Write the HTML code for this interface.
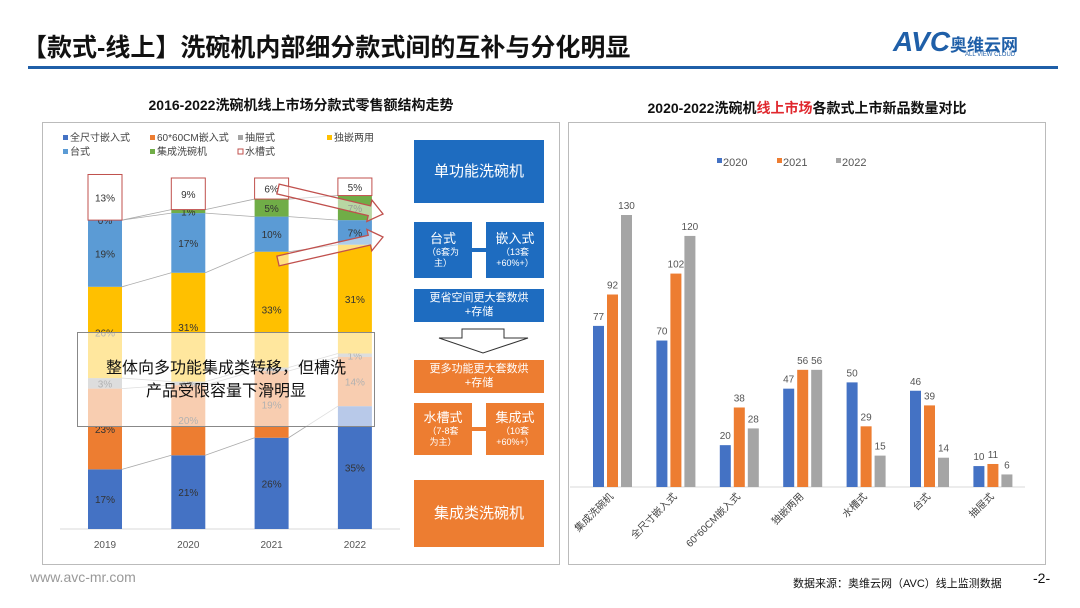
<!DOCTYPE html>
<html><head><meta charset="utf-8">
<style>
body{margin:0;width:1080px;height:608px;background:#fff;font-family:"Liberation Sans","Noto Sans CJK SC",sans-serif;position:relative;overflow:hidden}
.abs{position:absolute}
.box{position:absolute;color:#fff;text-align:center;display:flex;align-items:center;justify-content:center;flex-direction:column;line-height:1.2}
</style></head><body>
<div class="abs" style="left:22px;top:28px;font-size:25px;font-weight:bold;color:#111;letter-spacing:0px">【款式-线上】洗碗机内部细分款式间的互补与分化明显</div>
<div class="abs" style="left:893px;top:26px;font-size:28px;font-weight:bold;color:#1f5fa8;font-style:italic">AVC<span style="font-size:17px;color:#1f5fa8;font-style:normal">奥维云网</span></div>
<div class="abs" style="left:965px;top:52px;font-size:6px;color:#1f5fa8">ALL VIEW CLOUD</div>
<div class="abs" style="left:28px;top:66px;width:1030px;height:3px;background:#1f5fa8"></div>

<div class="abs" style="left:42px;top:95px;width:518px;text-align:center;font-size:14px;font-weight:bold;color:#111">2016-2022洗碗机线上市场分款式零售额结构走势</div>
<div class="abs" style="left:568px;top:98px;width:478px;text-align:center;font-size:14px;font-weight:bold;color:#111">2020-2022洗碗机<span style="color:#e0282e">线上市场</span>各款式上市新品数量对比</div>

<div class="abs" style="left:42px;top:122px;width:518px;height:443px;border:1px solid #bbb;box-sizing:border-box"></div>
<div class="abs" style="left:568px;top:122px;width:478px;height:443px;border:1px solid #bbb;box-sizing:border-box"></div>

<svg class="abs" style="left:0;top:0" width="1080" height="608" id="lsvg"></svg>

<!-- middle flow -->
<div class="box" style="left:414px;top:140px;width:130px;height:63px;background:#1e6cc0;font-size:15px">单功能洗碗机</div>
<div class="box" style="left:414px;top:222px;width:58px;height:56px;background:#1e6cc0;font-size:13px">台式<span style="font-size:9px">（6套为<br>主）</span></div>
<div class="box" style="left:486px;top:222px;width:58px;height:56px;background:#1e6cc0;font-size:13px">嵌入式<span style="font-size:9px">（13套<br>+60%+）</span></div>
<div class="abs" style="left:472px;top:248px;width:14px;height:4px;background:#1e6cc0"></div>
<div class="box" style="left:414px;top:289px;width:130px;height:33px;background:#1e6cc0;font-size:11px">更省空间更大套数烘<br>+存储</div>
<svg class="abs" style="left:436px;top:328px" width="95" height="26"><polygon points="26,1 68,1 68,10 92,10 47,25 3,10 26,10" fill="#fff" stroke="#333" stroke-width="1"/></svg>
<div class="box" style="left:414px;top:360px;width:130px;height:33px;background:#ed7d31;font-size:11px">更多功能更大套数烘<br>+存储</div>
<div class="box" style="left:414px;top:403px;width:58px;height:52px;background:#ed7d31;font-size:13px">水槽式<span style="font-size:9px">（7-8套<br>为主）</span></div>
<div class="box" style="left:486px;top:403px;width:58px;height:52px;background:#ed7d31;font-size:13px">集成式<span style="font-size:9px">（10套<br>+60%+）</span></div>
<div class="abs" style="left:472px;top:427px;width:14px;height:4px;background:#ed7d31"></div>
<div class="box" style="left:414px;top:480px;width:130px;height:67px;background:#ed7d31;font-size:15px">集成类洗碗机</div>

<div class="abs" style="left:77px;top:332px;width:298px;height:95px;background:rgba(255,255,255,0.62);border:1px solid #888;box-sizing:border-box;text-align:center;font-size:16px;line-height:23px;color:#111;padding-top:24px">整体向多功能集成类转移，但槽洗<br>产品受限容量下滑明显</div>

<div class="abs" style="left:30px;top:569px;font-size:14px;color:#999">www.avc-mr.com</div>
<div class="abs" style="left:793px;top:575px;font-size:11px;color:#111">数据来源：奥维云网（AVC）线上监测数据</div>
<div class="abs" style="left:1033px;top:570px;font-size:14px;color:#111">-2-</div>

<script>
const years=['2019','2020','2021','2022'];
const seriesNames=['全尺寸嵌入式','60*60CM嵌入式','抽屉式','独嵌两用','台式','集成洗碗机','水槽式'];
const seriesColors=['#4472c4','#ed7d31','#a5a5a5','#ffc000','#5b9bd5','#70ad47','#fff'];
const sFull=[17,21,26,35];
const s6060=[23,20,19,14];
const sDrawer=[3,1,1,1];
const sDual=[26,31,33,31];
const sCounter=[19,17,10,7];
const sIntegrated=[0,1,5,7];
const sSink=[13,9,6,5];
const stacks=[sFull,s6060,sDrawer,sDual,sCounter,sIntegrated,sSink];

const cats=['集成洗碗机','全尺寸嵌入式','60*60CM嵌入式','独嵌两用','水槽式','台式','抽屉式'];
const v2020=[77,70,20,47,50,46,10];
const v2021=[92,102,38,56,29,39,11];
const v2022=[130,120,28,56,15,14,6];
const barYears=['2020','2021','2022'];

const NS='http://www.w3.org/2000/svg';
const svg=document.getElementById('lsvg');
function mk(t,a,txt){const e=document.createElementNS(NS,t);for(const k in a)e.setAttribute(k,a[k]);if(txt!==undefined)e.textContent=txt;svg.appendChild(e);return e;}

// left chart axes
const lBase=529,lH=351;
const lx=i=>88+i*83.3, bw=34;
const ly=v=>lBase-v/100*lH;
mk('line',{x1:60,x2:400,y1:lBase,y2:lBase,stroke:'#d9d9d9'});
// series lines
for(let i=0;i<3;i++){let c1=0,c2=0;for(let s=0;s<stacks.length-1;s++){c1+=stacks[s][i];c2+=stacks[s][i+1];
 const l=mk('line',{x1:lx(i)+bw,y1:ly(c1),x2:lx(i+1),y2:ly(c2),stroke:'#aaa','stroke-width':0.8});
 }}
for(let i=0;i<years.length;i++){let c=0;
 for(let s=0;s<stacks.length;s++){const v=stacks[s][i];const y0=ly(c),y1=ly(c+v);c+=v;
  const r=mk('rect',{x:lx(i),y:y1,width:bw,height:y0-y1,fill:seriesColors[s],stroke:s==6?'#c0504d':'none','stroke-width':1});
  
  const t=mk('text',{x:lx(i)+bw/2,y:(y0+y1)/2+4,'text-anchor':'middle','font-size':10,fill:s==6||s==5||s==3?'#333':'#333'},v+'%');
  }
 const t=mk('text',{x:lx(i)+bw/2,y:548,'text-anchor':'middle','font-size':10,fill:'#555'},years[i]);
 }
// legend
const legX=[63,150,238,327,63,150,238],legY=[141,141,141,141,155,155,155];
for(let s=0;s<seriesNames.length;s++){
 const r=mk('rect',{x:legX[s],y:legY[s]-6,width:5,height:5,fill:seriesColors[s],stroke:s==6?'#c0504d':'none'});
 
 const t=mk('text',{x:legX[s]+7,y:legY[s],'font-size':10,fill:'#444'},seriesNames[s]);
 }
// red arrows
function arrow(x1,y1,x2,y2){const dx=x2-x1,dy=y2-y1,L=Math.hypot(dx,dy),a=Math.atan2(dy,dx)*180/Math.PI;
 const p=`0,-5 ${L-14},-5 ${L-14},-11 ${L},0 ${L-14},11 ${L-14},5 0,5`;
 const g=mk('polygon',{points:p,fill:'rgba(255,255,255,0.5)',stroke:'#c0504d','stroke-width':1.3,transform:`translate(${x1},${y1}) rotate(${a})`});
 }
arrow(278,189,383,214);arrow(278,261,383,237);

// right chart
const rBase=487,rScale=272/130;
const ry=v=>rBase-v*rScale;
const gx=i=>612+i*63.4;
const rSeries=[v2020,v2021,v2022],rColors=['#4472c4','#ed7d31','#a5a5a5'];
const xa=mk('line',{x1:570,x2:1025,y1:rBase,y2:rBase,stroke:'#d9d9d9'});

for(let i=0;i<cats.length;i++){
 for(let s=0;s<3;s++){const v=rSeries[s][i];const x=gx(i)-19+s*14;
  const r=mk('rect',{x:x,y:ry(v),width:11,height:v*rScale,fill:rColors[s]});
  
  const t=mk('text',{x:x+5.5,y:ry(v)-6,'text-anchor':'middle','font-size':10,fill:'#555'},v);
  }
 const t=mk('text',{x:gx(i)+2,y:rBase+10,'text-anchor':'end','font-size':10,fill:'#444',transform:`rotate(-45 ${gx(i)+2} ${rBase+10})`},cats[i]);
 }
const rlx=[717,777,836];
for(let s=0;s<3;s++){
 const r=mk('rect',{x:rlx[s],y:158,width:5,height:5,fill:rColors[s]});
 
 const t=mk('text',{x:rlx[s]+6,y:166,'font-size':11,fill:'#555'},barYears[s]);
 }
</script>
</body></html>
